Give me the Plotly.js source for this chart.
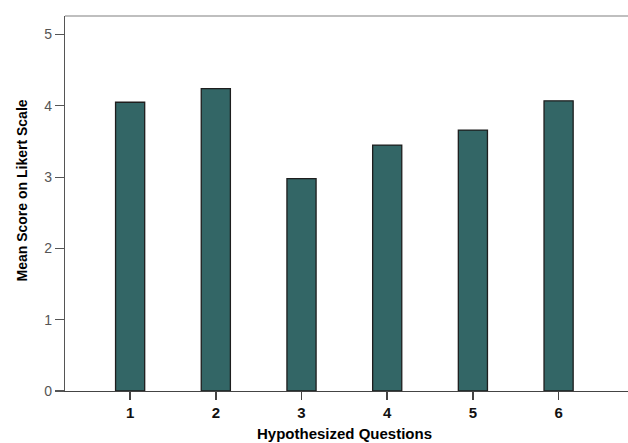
<!DOCTYPE html>
<html>
<head>
<meta charset="utf-8">
<script src="https://cdn.plot.ly/plotly-3.0.1.min.js"></script>
<style>html,body{margin:0;padding:0;background:#fff;}#chart{width:628px;height:443px;}</style>
</head>
<body>
<div id="chart"></div>
<script>
const categories = [1, 2, 3, 4, 5, 6];
const tickLabels = ["1", "2", "3", "4", "5", "6"];
const meanScores = [4.05, 4.24, 2.98, 3.45, 3.66, 4.07];
const yTicks = [0, 1, 2, 3, 4, 5];

const trace = {
  type: 'bar',
  x: categories,
  y: meanScores,
  width: 0.34,
  marker: { color: '#336666', line: { color: '#1e1e1e', width: 1.3 } },
  hoverinfo: 'x+y'
};

const layout = {
  width: 628, height: 443,
  margin: { l: 65, r: 0, t: 16, b: 52 },
  paper_bgcolor: '#ffffff', plot_bgcolor: '#ffffff',
  showlegend: false,
  bargap: 0,
  font: { family: 'Liberation Sans, Arial, sans-serif', color: '#000' },
  xaxis: {
    range: [0.24, 6.81],
    tickmode: 'array', tickvals: categories, ticktext: tickLabels,
    ticks: 'outside', ticklen: 8, tickwidth: 1.5, tickcolor: '#444',
    showline: true, linecolor: '#444', linewidth: 1.2,
    showgrid: false, zeroline: false,
    tickfont: { family: 'Liberation Sans, Arial, sans-serif', size: 15, color: '#111', weight: 'bold' },
    fixedrange: true
  },
  yaxis: {
    range: [0, 5.26],
    tickmode: 'array', tickvals: yTicks, ticktext: yTicks.map(String),
    ticks: 'outside', ticklen: 9, tickwidth: 1.2, tickcolor: '#555',
    showline: true, linecolor: '#555', linewidth: 1.2,
    showgrid: false, zeroline: false,
    tickfont: { family: 'Liberation Sans, Arial, sans-serif', size: 14, color: '#555' },
    fixedrange: true
  },
  shapes: [{
    type: 'line', xref: 'paper', yref: 'paper', x0: 0, x1: 1, y0: 1, y1: 1,
    line: { color: '#aaaaaa', width: 1.5 }
  }],
  annotations: [
    {
      text: '<b>Mean Score on Likert Scale</b>', xref: 'paper', yref: 'paper',
      x: 0, y: 0.5, xshift: -44, yshift: 13, textangle: -90, showarrow: false,
      xanchor: 'center', yanchor: 'middle',
      font: { family: 'Liberation Sans, Arial, sans-serif', size: 14, color: '#000' }
    },
    {
      text: '<b>Hypothesized Questions</b>', xref: 'x', yref: 'paper',
      x: 3.5, y: 0, yshift: -42, showarrow: false,
      xanchor: 'center', yanchor: 'middle',
      font: { family: 'Liberation Sans, Arial, sans-serif', size: 15, color: '#000' }
    }
  ]
};

Plotly.newPlot('chart', [trace], layout, { displayModeBar: false, staticPlot: true });
</script>
</body>
</html>
